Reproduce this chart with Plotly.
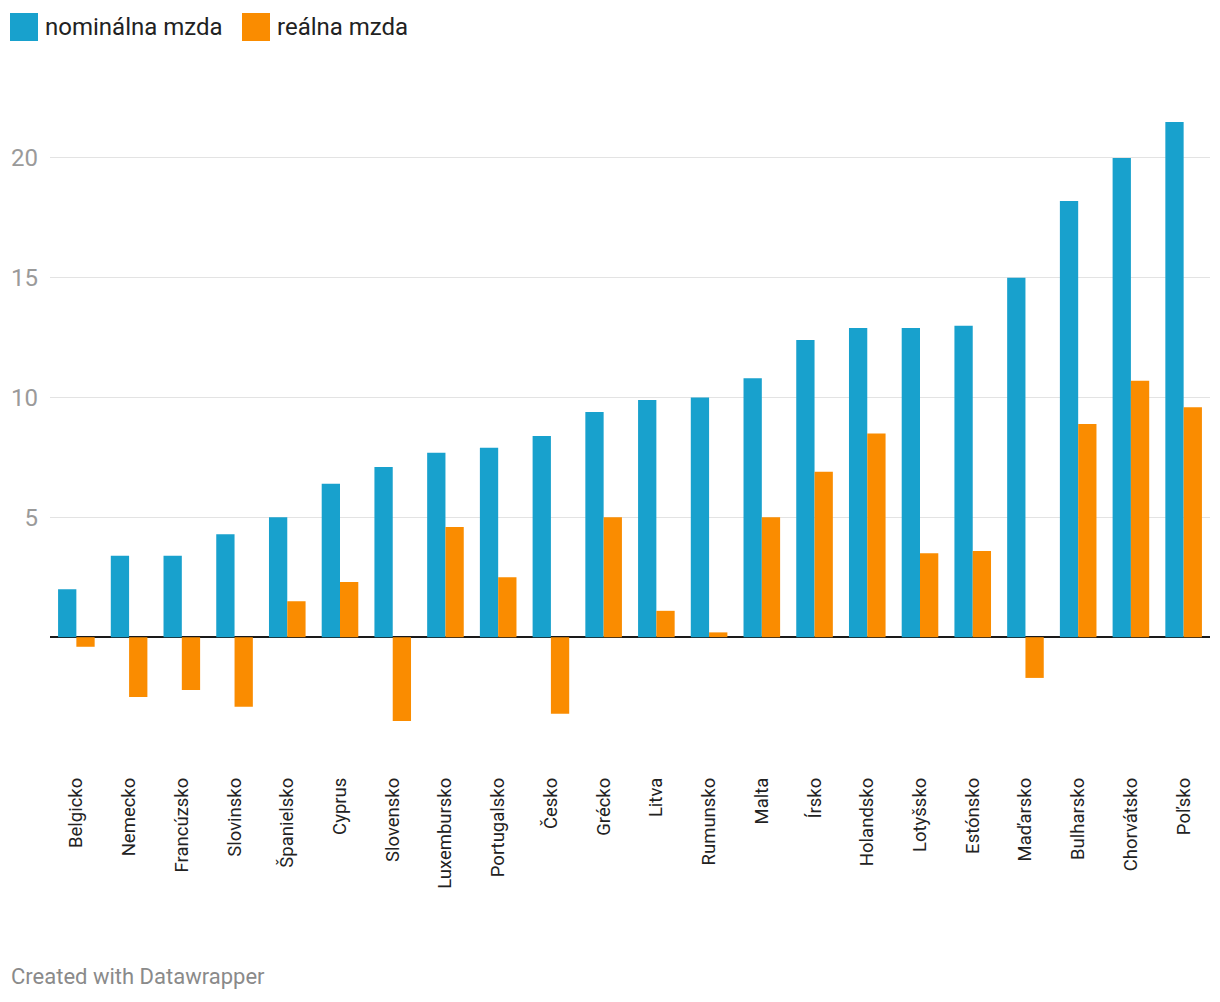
import plotly.graph_objects as go

categories = ["Belgicko", "Nemecko", "Francúzsko", "Slovinsko", "Španielsko", "Cyprus",
              "Slovensko", "Luxembursko", "Portugalsko", "Česko", "Grécko", "Litva",
              "Rumunsko", "Malta", "Írsko", "Holandsko", "Lotyšsko", "Estónsko",
              "Maďarsko", "Bulharsko", "Chorvátsko", "Poľsko"]
nominal = [2.0, 3.4, 3.4, 4.3, 5.0, 6.4, 7.1, 7.7, 7.9, 8.4, 9.4, 9.9,
           10.0, 10.8, 12.4, 12.9, 12.9, 13.0, 15.0, 18.2, 20.0, 21.5]
real = [-0.4, -2.5, -2.2, -2.9, 1.5, 2.3, -3.5, 4.6, 2.5, -3.2, 5.0, 1.1,
        0.2, 5.0, 6.9, 8.5, 3.5, 3.6, -1.7, 8.9, 10.7, 9.6]
series_names = ["nominálna mzda", "reálna mzda"]
colors = ["#18a1cd", "#fa8c00"]
y_ticks = [5, 10, 15, 20]

W, H = 1220, 1002
ML, MR, MT, MB = 50, 10, 98, 245
PW, PH = W - ML - MR, H - MT - MB

def px(x):
    return (x - ML) / PW

def py(y):
    return (H - MB - y) / PH

fig = go.Figure()
fig.add_trace(go.Bar(x=categories, y=nominal, name=series_names[0],
                     marker=dict(color=colors[0], line=dict(width=0)), showlegend=False))
fig.add_trace(go.Bar(x=categories, y=real, name=series_names[1],
                     marker=dict(color=colors[1], line=dict(width=0)), showlegend=False))

shapes = []
annotations = []
legend_pos = [(10, 43), (242, 275)]
for (sx, tx), name, c in zip(legend_pos, series_names, colors):
    shapes.append(dict(type="rect", xref="paper", yref="paper",
                       x0=px(sx), x1=px(sx + 28), y0=py(41), y1=py(13),
                       fillcolor=c, line=dict(width=0)))
    annotations.append(dict(text=name, xref="paper", yref="paper", x=px(tx), y=py(27),
                            xanchor="left", yanchor="middle", showarrow=False,
                            font=dict(family="Roboto", size=24, color="#222222")))
annotations.append(dict(text="Created with Datawrapper", xref="paper", yref="paper",
                        x=px(9), y=py(976), xanchor="left", yanchor="middle",
                        showarrow=False, font=dict(family="Roboto", size=22, color="#8a8a8a")))

fig.update_layout(
    width=W, height=H,
    margin=dict(l=ML, r=MR, t=MT, b=MB, pad=0),
    paper_bgcolor="white", plot_bgcolor="white",
    barmode="group", bargap=0.306, bargroupgap=0,
    font=dict(family="Roboto", color="#333333"),
    shapes=shapes, annotations=annotations,
    xaxis=dict(tickangle=-90, tickfont=dict(family="Roboto", size=18.5, color="#222222"),
               showgrid=False, showline=False, ticks="", ticklabelstandoff=16,
               fixedrange=True),
    yaxis=dict(range=[-5, 22.5], tickvals=y_ticks, ticktext=[str(v) for v in y_ticks],
               tickfont=dict(family="Roboto", size=24, color="#9a9a9a"),
               showgrid=True, gridcolor="#e3e3e3", gridwidth=1,
               zeroline=True, zerolinecolor="#1a1a1a", zerolinewidth=2,
               showline=False, ticks="", ticklabelstandoff=11, fixedrange=True),
)

fig.write_html("out.html", config={"displayModeBar": False},
               post_script="document.body.style.margin='0';")
